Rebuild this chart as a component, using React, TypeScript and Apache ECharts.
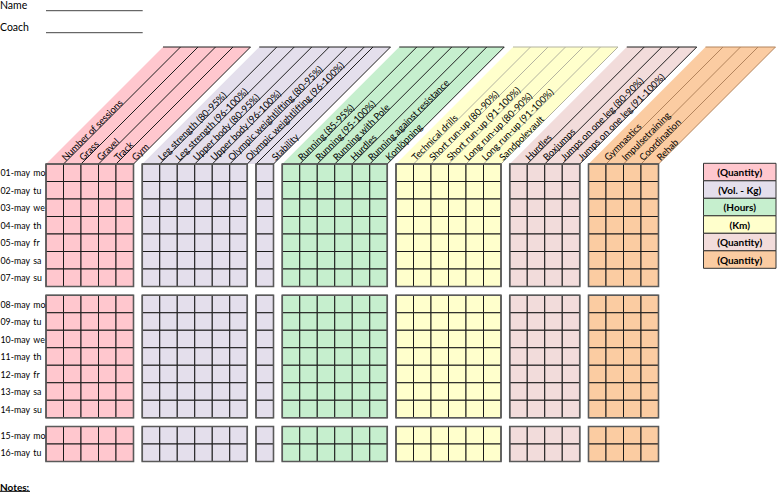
import React, { useEffect, useRef } from "react";
import * as echarts from "echarts";

// ---------- data ----------
const dates = [
  "01-may", "02-may", "03-may", "04-may", "05-may", "06-may", "07-may",
  "08-may", "09-may", "10-may", "11-may", "12-may", "13-may", "14-may",
  "15-may", "16-may",
];
const days = ["mo", "tu", "we", "th", "fr", "sa", "su", "mo", "tu", "we", "th", "fr", "sa", "su", "mo", "tu"];
const weekLengths = [7, 7, 2];

const sessionColumns = ["Number of sessions", "Grass", "Gravel", "Track", "Gym"];
const strengthColumns = [
  "Leg strength (80-95%)", "Leg strength (96-100%)", "Upper body (80-95%)",
  "Upper body (96-100%)", "Olympic weightlifting (80-95%)", "Olympic weightlifting (96-100%)",
];
const stabilityColumns = ["Stability"];
const runningColumns = [
  "Running (85-95%)", "Running (95-100%)", "Running with Pole", "Hurdles",
  "Running against resistance", "Konlöpning",
];
const vaultColumns = [
  "Technical drills", "Short run-up (80-90%)", "Short run-up (91-100%)",
  "Long run-up (80-90%)", "Long run-up (91-100%)", "Sandpolevault",
];
const jumpColumns = ["Hurdles", "Boxjumps", "Jumps on one leg (80-90%)", "Jumps on one leg (91-100%)"];
const otherColumns = ["Gymnastics", "Impulsetraining", "Coordination", "Rehab"];

const legendUnits = ["(Quantity)", "(Vol. - Kg)", "(Hours)", "(Km)", "(Quantity)", "(Quantity)"];

// ---------- styles ----------
const PINK = "#FFC7CE";
const LAV = "#E4DFEC";
const GREEN = "#C6EFCE";
const YELLOW = "#FFFFCC";
const MAUVE = "#F2DCDB";
const ORANGE = "#FBCCA2";
const FONT = "Lato, 'Open Sans', sans-serif";

const blocks = [
  { cols: sessionColumns, color: PINK, line: "#1e1e1e" },
  { cols: strengthColumns, color: LAV, line: "#1e1e1e" },
  { cols: stabilityColumns, color: LAV, line: "#1e1e1e" },
  { cols: runningColumns, color: GREEN, line: "#1e1e1e" },
  { cols: vaultColumns, color: YELLOW, line: "#b3b39f" },
  { cols: jumpColumns, color: MAUVE, line: "#1e1e1e" },
  { cols: otherColumns, color: ORANGE, line: "#b3845c" },
];
const headerGroups = [[0], [1, 2], [3], [4], [5], [6]];
const legendColors = [PINK, LAV, GREEN, YELLOW, MAUVE, ORANGE];

const GAP = 0.5;
const HEADER_H = 117;

// x start (in column units) of each block
const blockStart: number[] = [];
{
  let x = 0;
  blocks.forEach((b) => {
    blockStart.push(x);
    x += b.cols.length + GAP;
  });
}
const totalX = blockStart[blocks.length - 1] + blocks[blocks.length - 1].cols.length;

// y start (in row units) of each row
const rowY: number[] = [];
const weekStart: number[] = [];
{
  let y = 0;
  weekLengths.forEach((n) => {
    weekStart.push(y);
    for (let r = 0; r < n; r++) rowY.push(y + r);
    y += n + GAP;
  });
}
const totalY = rowY[rowY.length - 1] + 1;

export default function App() {
  const ref = useRef<HTMLDivElement>(null);
  useEffect(() => {
    if (!ref.current) return;
    const chart = echarts.init(ref.current, undefined, { renderer: "svg" });

    const cellData: number[][] = [];
    blocks.forEach((b, bi) => {
      b.cols.forEach((_, ci) => {
        rowY.forEach((y) => cellData.push([blockStart[bi] + ci, y, bi]));
      });
    });

    const outlineData: number[][] = [];
    blocks.forEach((b, bi) => {
      weekLengths.forEach((n, wi) => outlineData.push([blockStart[bi], weekStart[wi], bi, n]));
    });

    const headerData = headerGroups.map((_, i) => [i, 0]);
    const rowData = rowY.map((y, i) => [0, y, i]);

    const legendGraphics: any[] = [];
    legendUnits.forEach((u, i) => {
      legendGraphics.push({
        type: "rect",
        shape: { x: 703.5, y: 163.3 + i * 17.5, width: 72.5, height: 17.5 },
        style: { fill: legendColors[i], stroke: "#333", lineWidth: 1 },
      });
      legendGraphics.push({
        type: "text",
        x: 739.75,
        y: 163.3 + i * 17.5 + 8.9,
        style: {
          text: u, fill: "#000", font: `bold 10px ${FONT}`,
          textAlign: "center", textVerticalAlign: "middle", align: "center", verticalAlign: "middle",
        },
      });
    });

    const option: any = {
      animation: false,
      grid: { left: 46, top: 164, width: 612.5, height: 297.5 },
      xAxis: { type: "value", min: 0, max: totalX, show: false },
      yAxis: { type: "value", min: 0, max: totalY, inverse: true, show: false },
      series: [
        {
          type: "custom",
          name: "headers",
          data: headerData,
          encode: { x: 0, y: 1 },
          silent: true,
          renderItem: (params: any, api: any) => {
            const group = headerGroups[api.value(0)];
            const first = blocks[group[0]];
            const last = group[group.length - 1];
            const xL = api.coord([blockStart[group[0]], 0])[0];
            const xRu = blockStart[last] + blocks[last].cols.length;
            const p = api.coord([xRu, 0]);
            const xR = p[0];
            const yb = p[1];
            const H = HEADER_H;
            const children: any[] = [
              {
                type: "polygon",
                shape: { points: [[xL, yb], [xR, yb], [xR + H, yb - H], [xL + H, yb - H]] },
                style: { fill: first.color, stroke: null },
              },
            ];
            const lines: number[] = [];
            const texts: { xb: number; t: string }[] = [];
            group.forEach((bi, k) => {
              const b = blocks[bi];
              if (k > 0) lines.push(api.coord([blockStart[bi], 0])[0]);
              b.cols.forEach((t, ci) => {
                const xb = api.coord([blockStart[bi] + ci + 1, 0])[0];
                lines.push(xb);
                texts.push({ xb, t });
              });
            });
            lines.forEach((xb) => {
              children.push({
                type: "line",
                shape: { x1: xb, y1: yb, x2: xb + H, y2: yb - H },
                style: { stroke: first.line, lineWidth: 1 },
              });
            });
            children.push({
              type: "line",
              shape: { x1: xL + H, y1: yb - H, x2: xR + H, y2: yb - H },
              style: { stroke: first.line, lineWidth: 1 },
            });
            texts.forEach(({ xb, t }) => {
              const s = 2.5;
              children.push({
                type: "text",
                x: xb + s + 0.8,
                y: yb - s + 0.8,
                rotation: Math.PI / 4,
                style: {
                  text: t, fill: "#000", font: `9.5px ${FONT}`,
                  textAlign: "left", textVerticalAlign: "bottom", align: "left", verticalAlign: "bottom",
                },
              });
            });
            return { type: "group", children };
          },
        },
        {
          type: "custom",
          name: "cells",
          data: cellData,
          encode: { x: 0, y: 1 },
          silent: true,
          renderItem: (params: any, api: any) => {
            const x = api.value(0);
            const y = api.value(1);
            const b = blocks[api.value(2)];
            const p0 = api.coord([x, y]);
            const p1 = api.coord([x + 1, y + 1]);
            return {
              type: "rect",
              shape: { x: p0[0], y: p0[1], width: p1[0] - p0[0], height: p1[1] - p0[1] },
              style: { fill: b.color, stroke: "#1a1a1a", lineWidth: 1 },
            };
          },
        },
        {
          type: "custom",
          name: "outlines",
          data: outlineData,
          encode: { x: 0, y: 1 },
          silent: true,
          renderItem: (params: any, api: any) => {
            const x = api.value(0);
            const y = api.value(1);
            const b = blocks[api.value(2)];
            const n = api.value(3);
            const p0 = api.coord([x, y]);
            const p1 = api.coord([x + b.cols.length, y + n]);
            return {
              type: "rect",
              shape: { x: p0[0], y: p0[1], width: p1[0] - p0[0], height: p1[1] - p0[1] },
              style: { fill: null, stroke: "#5a5a5a", lineWidth: 1.6 },
            };
          },
        },
        {
          type: "custom",
          name: "rows",
          data: rowData,
          encode: { x: 0, y: 1 },
          silent: true,
          renderItem: (params: any, api: any) => {
            const y = api.value(1);
            const i = api.value(2);
            const p = api.coord([0, y + 0.5]);
            return {
              type: "group",
              children: [
                {
                  type: "text",
                  x: p[0] - 45.5,
                  y: p[1],
                  style: {
                    text: dates[i], fill: "#000", font: `8.8px ${FONT}`,
                    textAlign: "left", textVerticalAlign: "middle", align: "left", verticalAlign: "middle",
                  },
                },
                {
                  type: "text",
                  x: p[0] - 12.7,
                  y: p[1],
                  style: {
                    text: days[i], fill: "#000", font: `8.8px ${FONT}`,
                    textAlign: "left", textVerticalAlign: "middle", align: "left", verticalAlign: "middle",
                  },
                },
              ],
            };
          },
        },
      ],
      graphic: [
        {
          type: "text", x: 0, y: 5,
          style: { text: "Name", fill: "#000", font: `10.5px ${FONT}`, textVerticalAlign: "middle", verticalAlign: "middle" },
        },
        { type: "line", shape: { x1: 46, y1: 10.7, x2: 142.7, y2: 10.7 }, style: { stroke: "#444", lineWidth: 1 } },
        {
          type: "text", x: 0, y: 26.5,
          style: { text: "Coach", fill: "#000", font: `10.5px ${FONT}`, textVerticalAlign: "middle", verticalAlign: "middle" },
        },
        { type: "line", shape: { x1: 46, y1: 32.7, x2: 142.7, y2: 32.7 }, style: { stroke: "#444", lineWidth: 1 } },
        {
          type: "text", x: 0, y: 486.5,
          style: { text: "Notes:", fill: "#000", font: `bold 10px ${FONT}`, textVerticalAlign: "middle", verticalAlign: "middle" },
        },
        { type: "line", shape: { x1: 0, y1: 491.3, x2: 30, y2: 491.3 }, style: { stroke: "#000", lineWidth: 1 } },
        ...legendGraphics,
      ],
    };
    chart.setOption(option);
    return () => chart.dispose();
  }, []);
  return (
    <div
      ref={ref}
      style={{ position: "fixed", left: 0, top: 0, width: 778, height: 494, background: "#fff" }}
    />
  );
}
